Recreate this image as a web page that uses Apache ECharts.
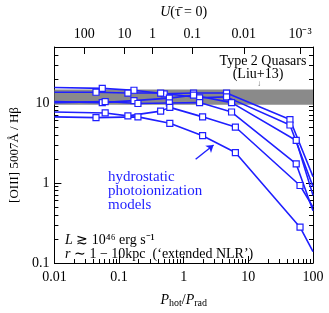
<!DOCTYPE html>
<html><head><meta charset="utf-8">
<script src="https://cdn.jsdelivr.net/npm/echarts@6/dist/echarts.min.js"></script>
<style>html,body{margin:0;padding:0;background:#fff}#c{width:329px;height:313px}</style>
</head><body><div id="c"></div>
<script>
// ---- data ----
const xTickLabels = ['0.01','0.1','1','10','100'];
const yTickLabels = ['0.1','1','10'];
const uTickLabels = ['100','10','1','0.1','0.01','10⁻³'];
const uTickPositions = [0.029, 0.121, 0.33, 1.36, 8.5, 63];   // P_hot/P_rad where U ticks sit
const liuBand = [9.5, 14.7];
const model1 = [[0.01,15.6],[0.055,15.2],[0.17,14.4],[0.5,13.0],[1.42,13.3],[4.6,13.3],[44,6.2],[100,1.2]];
const model2 = [[0.01,13.6],[0.044,13.6],[0.137,13.3],[0.44,13.3],[1.76,11.6],[4.6,11.9],[44,5.3],[100,0.9]];
const model3 = [[0.01,10.4],[0.055,10.1],[0.17,10.7],[0.6,11.5],[1.42,12.5],[5.5,10.1],[55,3.4],[100,0.7]];
const model4 = [[0.01,10.1],[0.061,10.4],[0.196,9.84],[0.6,10.0],[1.76,10.1],[5.5,7.7],[55,1.73],[100,0.45]];
const model5 = [[0.01,7.7],[0.061,7.5],[0.137,6.9],[0.44,7.9],[0.61,8.8],[1.96,6.7],[6.3,5.0],[63,0.93],[100,0.5]];
const model6 = [[0.01,6.7],[0.044,6.55],[0.196,6.7],[0.61,5.56],[1.96,3.9],[6.3,2.4],[63,0.28],[100,0.139]];
const models = [model1, model2, model3, model4, model5, model6];
const arrowFrom = [1.53, 1.98];
const arrowTo = [2.9, 2.98];

// minor tick positions (log decades)
const xMinor = [], yMinor = [];
for (let d = -2; d < 2; d++) for (let k = 2; k <= 9; k++) xMinor.push(Math.log10(k) + d);
for (let d = -1; d < 2; d++) for (let k = 2; k <= 9; k++) { const v = Math.log10(k) + d; if (v <= Math.log10(50)) yMinor.push(v); }

const FONT = 'Liberation Serif';
const BLUE = '#1f1fff';
const chart = echarts.init(document.getElementById('c'), null, {renderer: 'canvas'});

function fmt(list) {
  return function (v) {
    let best = '', bd = 1e9;
    list.forEach(s => { const n = parseFloat(s); const d = Math.abs(Math.log10(n) - Math.log10(v)); if (d < bd) { bd = d; best = s; } });
    return bd < 0.01 ? best : '';
  };
}

const baseAxis = {
  splitLine: {show: false},
  axisLine: {onZero: false, lineStyle: {color: '#000', width: 1}},
};

const series = [{
  type: 'line', xAxisIndex: 0, yAxisIndex: 0, data: [], z: 1, silent: true,
  markArea: {silent: true, itemStyle: {color: '#8a8a8a', opacity: 1},
    data: [[{yAxis: liuBand[0]}, {yAxis: liuBand[1]}]]}
}];
models.forEach((m, i) => {
  series.push({
    type: 'line', xAxisIndex: 0, yAxisIndex: 0, z: 3,
    data: m.map((p, j) => ({value: p, symbol: (j === 0 || j === m.length - 1) ? 'none' : 'rect'})),
    symbol: 'rect', symbolSize: 6, showSymbol: true,
    lineStyle: {color: BLUE, width: 1.6},
    itemStyle: {color: '#fff', borderColor: BLUE, borderWidth: 1.2},
    animation: false,
    markLine: i === 5 ? {
      silent: true, symbol: ['none', 'arrow'], symbolSize: 7,
      label: {show: false}, lineStyle: {color: BLUE, width: 1.4, type: 'solid'},
      data: [[{coord: arrowFrom}, {coord: arrowTo}]]
    } : undefined
  });
});

chart.setOption({
  animation: false,
  grid: {left: 53, right: 16, top: 43, bottom: 41, containLabel: false},
  xAxis: [
    Object.assign({}, baseAxis, {type: 'log', min: 0.01, max: 100, interval: 1, position: 'bottom',
      axisTick: {inside: true, length: 7, lineStyle: {color: '#000'}},
      axisLabel: {fontFamily: FONT, fontSize: 14, color: '#000', margin: 7, formatter: fmt(xTickLabels)},
      name: '{i|P}{s|hot}{n|/}{i|P}{s|rad}', nameLocation: 'middle', nameGap: 29,
      nameTextStyle: {fontFamily: FONT, fontSize: 14, color: '#000',
        rich: {i: {fontFamily: FONT, fontSize: 14, fontStyle: 'italic', verticalAlign: 'middle'},
               n: {fontFamily: FONT, fontSize: 14},
               s: {fontFamily: FONT, fontSize: 10, verticalAlign: 'bottom', padding: [6, 0, 0, 0]}}}}),
    Object.assign({}, baseAxis, {type: 'value', min: -2, max: 2, position: 'bottom',
      axisLine: {show: false, onZero: false},
      axisTick: {inside: true, length: 4, customValues: xMinor, lineStyle: {color: '#000'}},
      axisLabel: {show: false}}),
    Object.assign({}, baseAxis, {type: 'value', min: -2, max: 2, position: 'top',
      axisTick: {inside: true, length: 7, customValues: uTickPositions.map(Math.log10), lineStyle: {color: '#000'}},
      axisLabel: {fontFamily: FONT, fontSize: 14, color: '#000', margin: 6,
        customValues: uTickPositions.map(Math.log10),
        formatter: (v) => { let k = 0, bd = 1e9; uTickPositions.forEach((p, j) => { const d = Math.abs(Math.log10(p) - v); if (d < bd) { bd = d; k = j; } }); return uTickLabels[k]; }},
      name: '{i|U}{n|(τ̄ = 0)}', nameLocation: 'middle', nameGap: 28,
      nameTextStyle: {fontFamily: FONT, fontSize: 14, color: '#000',
        rich: {i: {fontFamily: FONT, fontSize: 14, fontStyle: 'italic'}, n: {fontFamily: FONT, fontSize: 14}}}})
  ],
  yAxis: [
    Object.assign({}, baseAxis, {type: 'log', min: 0.1, max: 50, interval: 1, position: 'left',
      axisTick: {inside: true, length: 7, lineStyle: {color: '#000'}},
      axisLabel: {fontFamily: FONT, fontSize: 14, color: '#000', margin: 5, formatter: fmt(yTickLabels)},
      name: '[OIII] 5007Å / Hβ', nameLocation: 'middle', nameGap: 32, nameRotate: 90,
      nameTextStyle: {fontFamily: FONT, fontSize: 13, color: '#000'}}),
    Object.assign({}, baseAxis, {type: 'value', min: -1, max: Math.log10(50), position: 'left',
      axisLine: {show: false, onZero: false},
      axisTick: {inside: true, length: 4, customValues: yMinor, lineStyle: {color: '#000'}},
      axisLabel: {show: false}}),
    Object.assign({}, baseAxis, {type: 'log', min: 0.1, max: 50, interval: 1, position: 'right',
      axisTick: {inside: true, length: 7, lineStyle: {color: '#000'}},
      axisLabel: {show: false}}),
    Object.assign({}, baseAxis, {type: 'value', min: -1, max: Math.log10(50), position: 'right',
      axisLine: {show: false, onZero: false},
      axisTick: {inside: true, length: 4, customValues: yMinor, lineStyle: {color: '#000'}},
      axisLabel: {show: false}})
  ],
  series: series,
  graphic: [
    {type: 'text', x: 263, y: 61, style: {text: 'Type 2 Quasars', fontFamily: FONT, fontSize: 14, fill: '#000', align: 'center', verticalAlign: 'middle'}},
    {type: 'text', x: 258, y: 74, style: {text: '(Liu+13)', fontFamily: FONT, fontSize: 14, fill: '#000', align: 'center', verticalAlign: 'middle'}},
    {type: 'text', x: 259, y: 84, style: {text: '↓', fontFamily: FONT, fontSize: 8, fill: '#666', align: 'center', verticalAlign: 'middle'}},
    {type: 'text', x: 108, y: 170, style: {text: 'hydrostatic\nphotoionization\nmodels', fontFamily: FONT, fontSize: 15, lineHeight: 14, fill: BLUE, align: 'left', verticalAlign: 'top'}},
    {type: 'text', x: 65, y: 233, style: {text: '{i|L} ≳ 10⁴⁶ erg s⁻¹\n{i|r} ∼ 1 − 10kpc  (‘extended NLR’)', fontFamily: FONT, fontSize: 14, lineHeight: 14, fill: '#000', align: 'left', verticalAlign: 'top',
      rich: {i: {fontFamily: FONT, fontSize: 14, fontStyle: 'italic', lineHeight: 14}}}}
  ]
});
</script></body></html>
